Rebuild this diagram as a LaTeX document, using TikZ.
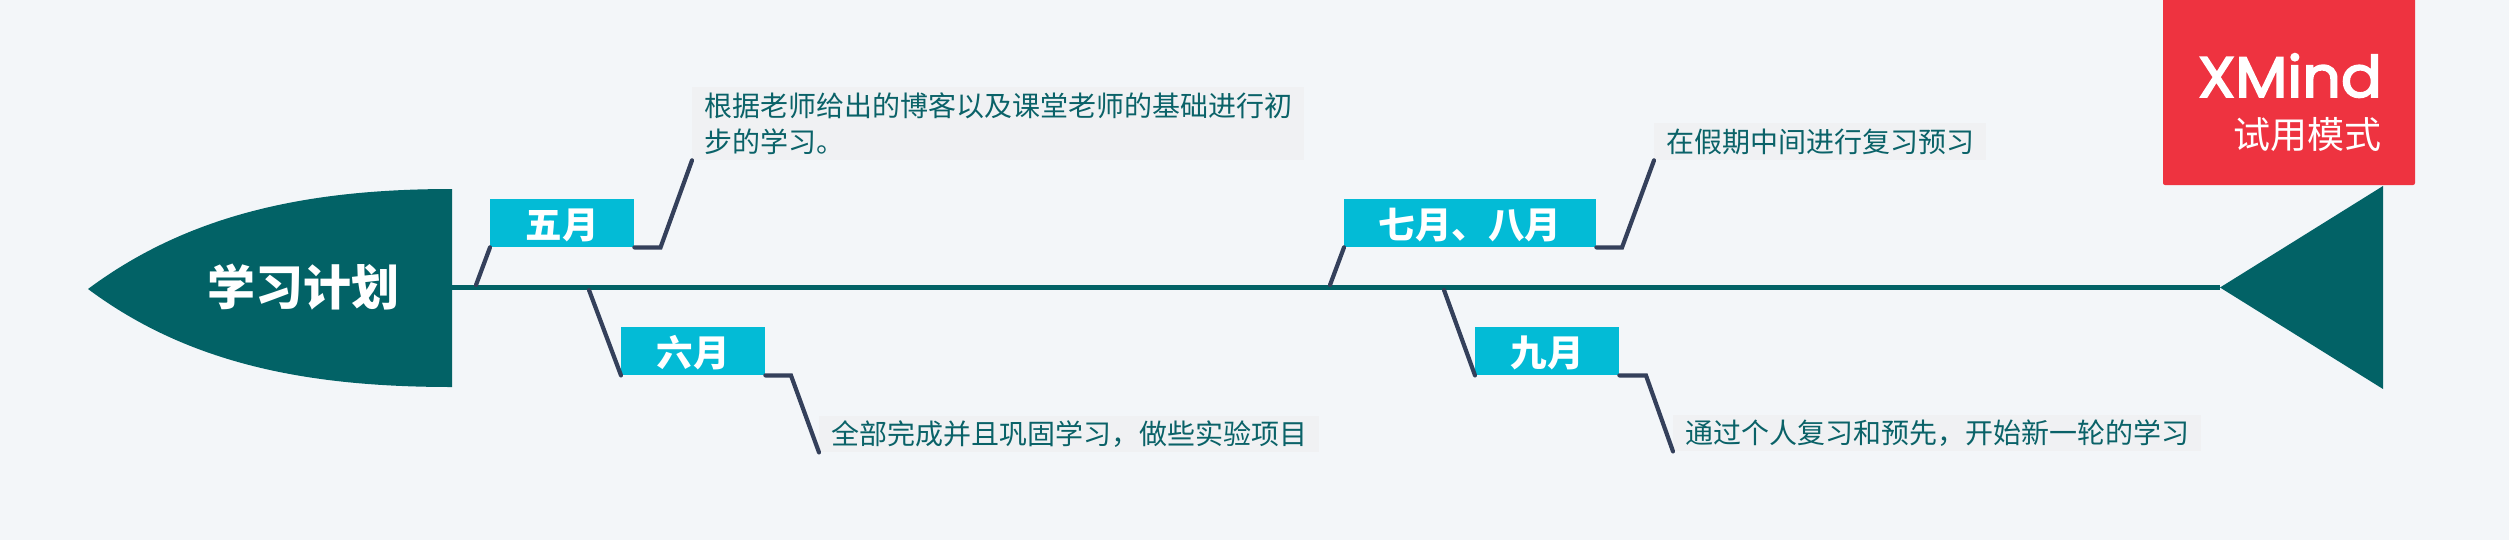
\documentclass[tikz,border=0pt]{standalone}
\usepackage{fontspec}
\setmainfont{Noto Sans CJK SC}
\newfontfamily\logofont[FakeBold=3,FakeStretch=1.06]{Poppins}
\definecolor{bgc}{HTML}{F3F6F9}
\definecolor{tealc}{HTML}{026266}
\definecolor{cyanc}{HTML}{03BBD6}
\definecolor{navyc}{HTML}{34405B}
\definecolor{notec}{HTML}{F0F1F3}
\definecolor{redc}{HTML}{EE3340}
\definecolor{notetext}{HTML}{0A6268}
\tikzset{
  month/.style={fill=cyanc,text=white,inner sep=0pt,minimum height=48pt,text height=31pt,text depth=0pt,anchor=north west,font=\fontsize{36.5}{40}\selectfont\bfseries},
  note/.style={fill=notec,text=notetext,inner xsep=12pt,inner ysep=0pt,anchor=north west,align=left,font=\fontsize{28}{36}\selectfont},
  link/.style={draw=navyc,line width=4.2pt,line join=miter,line cap=round},
  spine/.style={draw=tealc,line width=5.5pt},
}
\begin{document}
\begin{tikzpicture}[x=1pt,y=-1pt]
\useasboundingbox (0,0) rectangle (2509,539);
\fill[bgc] (-3,-3) rectangle (2512,542);
% head
\coordinate (headtip) at (88,289);
\coordinate (headtop) at (452,189);
\coordinate (headbot) at (452,387);
\coordinate (headr) at (452,287.5);
\fill[tealc] (headtip) .. controls (190,213) and (310,189) .. (headtop) -- (headbot) .. controls (310,387) and (190,365) .. (headtip) -- cycle;
\node[text=white,font=\fontsize{48}{52}\selectfont\bfseries,inner sep=0pt] (title) at (303,287) {学习计划};
% tail
\coordinate (tailapex) at (2220,287.5);
\fill[tealc] (tailapex) -- (2383,186) -- (2383,389) -- cycle;
\draw[spine] (headr) -- (tailapex);
% junctions
\coordinate (j1) at (476,285);
\coordinate (j2) at (589,290);
\coordinate (j3) at (1330,285);
\coordinate (j4) at (1444,290);
\coordinate (k1) at (660.5,247.5);
\coordinate (k2) at (791,375.5);
\coordinate (k3) at (1622,247.5);
\coordinate (k4) at (1646,375.5);
% months
\node[month,minimum width=144pt] (m1) at (490,199) {五月};
\node[month,minimum width=144pt] (m2) at (621,327) {六月};
\node[month,minimum width=252pt] (m3) at (1344,199) {七月、八月};
\node[month,minimum width=144pt] (m4) at (1475,327) {九月};
% notes
\node[note,minimum width=612pt,minimum height=73pt] (n1) at (692,87) {根据老师给出的博客以及课堂老师的基础进行初\\步的学习。};
\node[note,minimum width=499pt,minimum height=36pt] (n2) at (819,416) {全部完成并且巩固学习，做些实验项目};
\node[note,minimum width=332pt,minimum height=37pt] (n3) at (1654,123) {在假期中间进行复习预习};
\node[note,minimum width=528pt,minimum height=36pt] (n4) at (1673,415) {通过个人复习和预先，开始新一轮的学习};
% connectors
\draw[link] (j1) -- (m1.south west);
\draw[link] (j2) -- (m2.south west);
\draw[link] (j3) -- (m3.south west);
\draw[link] (j4) -- (m4.south west);
\draw[link] (m1.south east) -- (k1) -- (n1.south west);
\draw[link] (m2.south east) -- (k2) -- (n2.south west);
\draw[link] (m3.south east) -- (k3) -- (n3.south west);
\draw[link] (m4.south east) -- (k4) -- (n4.south west);
% badge
\fill[redc,rounded corners=2pt] (2163,-4) rectangle (2415,185);
\node[text=white,anchor=base east,inner sep=0pt,font=\fontsize{57}{60}\logofont\selectfont] (logo) at (2382,97) {XMind};
\node[text=white,anchor=base east,inner sep=0pt,font=\fontsize{37}{40}\selectfont] (trial) at (2382,148) {试用模式};
\end{tikzpicture}
\end{document}
